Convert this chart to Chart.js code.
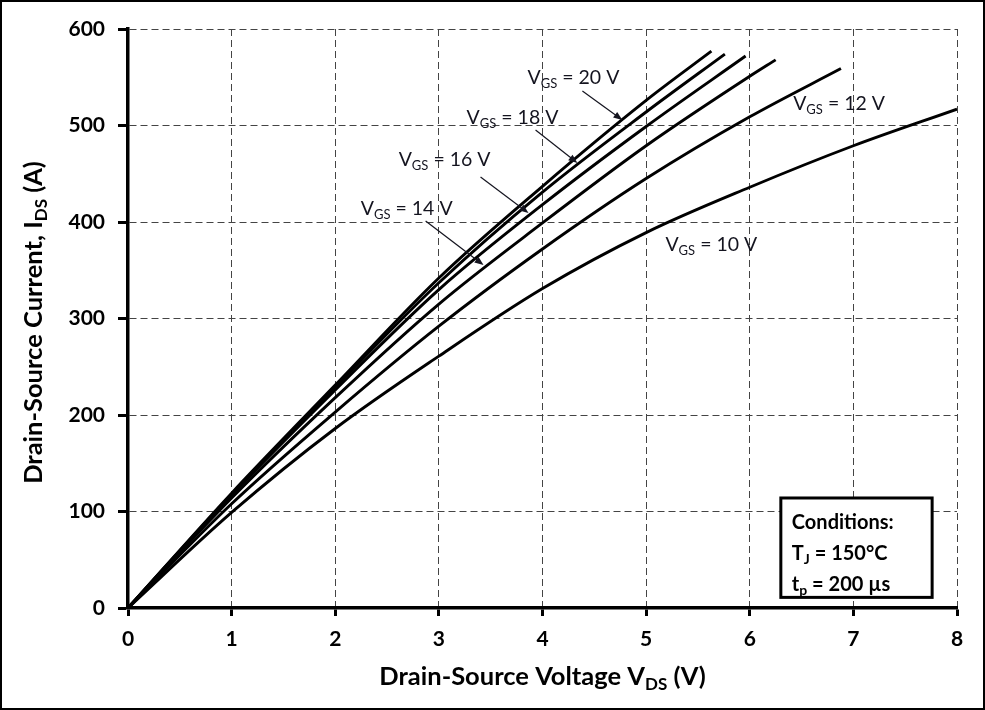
<!DOCTYPE html>
<html>
<head>
<meta charset="utf-8">
<script src="https://cdn.jsdelivr.net/npm/chart.js@4.4.0/dist/chart.umd.min.js"></script>
<style>
  html, body { margin: 0; padding: 0; background: #fff; }
  #wrap { width: 985px; height: 710px; }
</style>
</head>
<body>
<div id="wrap"><canvas id="c" width="985" height="710"></canvas></div>
<script>
// ---- Data ----
const seriesNames = ['VGS = 20 V', 'VGS = 18 V', 'VGS = 16 V', 'VGS = 14 V', 'VGS = 12 V', 'VGS = 10 V'];
const vds20 = [0, 1, 2, 3, 4, 5, 5.63];
const ids20 = [0, 119, 231, 342, 437, 526, 577];
const vds18 = [0, 1, 2, 3, 4, 5, 5.76];
const ids18 = [0, 118, 229, 337, 431, 514, 574];
const vds16 = [0, 1, 2, 3, 4, 5, 5.96];
const ids16 = [0, 117, 226, 330, 418, 499, 572];
const vds14 = [0, 1, 2, 3, 4, 5, 6, 6.25];
const ids14 = [0, 114, 218, 315, 399, 479, 551, 568];
const vds12 = [0, 1, 2, 3, 4, 5, 6, 6.88];
const ids12 = [0, 108, 203, 292, 372, 445, 509, 559];
const vds10 = [0, 1, 2, 3, 4, 5, 6, 7, 8];
const ids10 = [0, 99, 186, 261, 331, 389, 436, 479, 517];

const xTicks = [0, 1, 2, 3, 4, 5, 6, 7, 8];
const yTicks = [0, 100, 200, 300, 400, 500, 600];

// label values for each curve
const labelVgs = ['20', '18', '16', '14', '12', '10'];
// label anchor (data units: V, A) and optional arrow start/end (data units)
const labelX = [3.855, 3.267, 2.612, 2.246, 6.419, 5.186];
const labelY = [549, 507.8, 464.2, 413.5, 522.3, 376.2];
const arrowFrom = [[4.385, 535.8], [3.933, 495.3], [3.402, 446.6], [2.872, 401.0], null, null];
const arrowTo   = [[4.771, 505.7], [4.337, 461.1], [3.865, 409.3], [3.431, 355.4], null, null];

const conditionLines = [
  [['Conditions:', false]],
  [['T', false], ['J', true], [' = 150°C', false]],
  [['t', false], ['p', true], [' = 200 µs', false]]
];

// ---- build datasets ----
const xs = [vds20, vds18, vds16, vds14, vds12, vds10];
const ys = [ids20, ids18, ids16, ids14, ids12, ids10];
const datasets = xs.map((vx, i) => ({
  label: seriesNames[i],
  data: vx.map((v, k) => ({ x: v, y: ys[i][k] })),
  borderColor: '#000',
  borderWidth: 2.9,
  pointRadius: 0,
  fill: false,
  cubicInterpolationMode: 'monotone'
}));

const FONT = 'Lato, "Open Sans", sans-serif';

function richWidth(ctx, parts, size, weight) {
  let w = 0;
  for (const [t, sub] of parts) {
    ctx.font = `${weight} ${sub ? Math.round(size * 0.68) : size}px ${FONT}`;
    w += ctx.measureText(t).width;
  }
  return w;
}
function drawRich(ctx, parts, x, y, size, weight, align) {
  const w = richWidth(ctx, parts, size, weight);
  let cx = align === 'center' ? x - w / 2 : x;
  ctx.textBaseline = 'middle';
  ctx.textAlign = 'left';
  for (const [t, sub] of parts) {
    ctx.font = `${weight} ${sub ? Math.round(size * 0.68) : size}px ${FONT}`;
    ctx.fillText(t, cx, sub ? y + size * 0.3 : y);
    cx += ctx.measureText(t).width;
  }
}

const decor = {
  id: 'decor',
  afterDraw(chart) {
    const ctx = chart.ctx;
    const xs_ = chart.scales.x, ys_ = chart.scales.y;
    const px = v => xs_.getPixelForValue(v);
    const py = v => ys_.getPixelForValue(v);
    const area = chart.chartArea;
    ctx.save();

    // curve labels and arrows
    ctx.fillStyle = '#14141f';
    ctx.strokeStyle = '#14141f';
    for (let i = 0; i < labelVgs.length; i++) {
      drawRich(ctx, [['V', false], ['GS', true], [' = ' + labelVgs[i] + ' V', false]],
        px(labelX[i]), py(labelY[i]), 19.5, 'normal', 'left');
      if (arrowFrom[i]) {
        const x1 = px(arrowFrom[i][0]), y1 = py(arrowFrom[i][1]);
        const x2 = px(arrowTo[i][0]), y2 = py(arrowTo[i][1]);
        const ang = Math.atan2(y2 - y1, x2 - x1);
        ctx.lineWidth = 1.2;
        ctx.beginPath();
        ctx.moveTo(x1, y1);
        ctx.lineTo(x2 - 6 * Math.cos(ang), y2 - 6 * Math.sin(ang));
        ctx.stroke();
        ctx.beginPath();
        ctx.moveTo(x2, y2);
        ctx.lineTo(x2 - 9 * Math.cos(ang) + 3.5 * Math.sin(ang), y2 - 9 * Math.sin(ang) - 3.5 * Math.cos(ang));
        ctx.lineTo(x2 - 9 * Math.cos(ang) - 3.5 * Math.sin(ang), y2 - 9 * Math.sin(ang) + 3.5 * Math.cos(ang));
        ctx.closePath();
        ctx.fill();
      }
    }

    // conditions box
    const bx1 = px(6.30), bx2 = px(7.76), by1 = py(114), by2 = py(11);
    ctx.fillStyle = '#fff';
    ctx.fillRect(bx1, by1, bx2 - bx1, by2 - by1);
    ctx.lineWidth = 3;
    ctx.strokeStyle = '#000';
    ctx.strokeRect(bx1, by1, bx2 - bx1, by2 - by1);
    ctx.fillStyle = '#000';
    const lineY = [py(89), py(56), py(24)];
    conditionLines.forEach((parts, k) => drawRich(ctx, parts, bx1 + 11, lineY[k], 20, 'bold', 'left'));

    // axis titles
    ctx.fillStyle = '#000';
    drawRich(ctx, [['Drain-Source Voltage V', false], ['DS', true], [' (V)', false]],
      (area.left + area.right) / 2, 677, 25.5, 'bold', 'center');
    ctx.save();
    ctx.translate(34, (area.top + area.bottom) / 2 + 4);
    ctx.rotate(-Math.PI / 2);
    drawRich(ctx, [['Drain-Source Current, I', false], ['DS', true], [' (A)', false]],
      0, 0, 25.5, 'bold', 'center');
    ctx.restore();

    // outer frame
    ctx.lineWidth = 2;
    ctx.strokeStyle = '#000';
    ctx.strokeRect(1, 1, chart.width - 2, chart.height - 2);
    ctx.restore();
  }
};

new Chart(document.getElementById('c'), {
  type: 'line',
  data: { datasets },
  options: {
    responsive: false,
    animation: false,
    devicePixelRatio: 1,
    layout: { padding: { left: 0, top: 29, right: 28, bottom: 0 } },
    plugins: { legend: { display: false }, tooltip: { enabled: false } },
    scales: {
      x: {
        type: 'linear', min: 0, max: 8,
        afterBuildTicks: s => { s.ticks = xTicks.map(v => ({ value: v })); },
        afterFit: s => { s.height = 102; },
        grid: { color: '#444', lineWidth: 1, drawTicks: true, tickLength: 8, tickColor: '#000', tickWidth: 3 },
        border: { display: true, color: '#000', width: 3.5, dash: [7, 4] },
        ticks: { color: '#000', padding: 11, font: { family: FONT, weight: 'bold', size: 21 } }
      },
      y: {
        type: 'linear', min: 0, max: 600,
        afterBuildTicks: s => { s.ticks = yTicks.map(v => ({ value: v })); },
        afterFit: s => { s.width = 128; },
        grid: { color: '#444', lineWidth: 1, drawTicks: true, tickLength: 10, tickColor: '#000', tickWidth: 3 },
        border: { display: true, color: '#000', width: 3.5, dash: [7, 4] },
        ticks: { color: '#000', padding: 13, font: { family: FONT, weight: 'bold', size: 21 } }
      }
    }
  },
  plugins: [decor]
});
</script>
</body>
</html>
